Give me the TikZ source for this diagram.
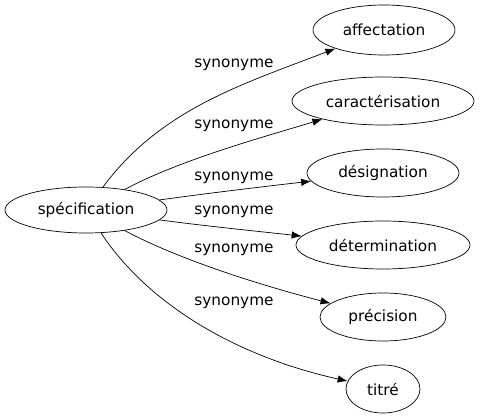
\documentclass[tikz,border=0pt]{standalone}
\usepackage{fontspec}
\setmainfont{DejaVu Sans}
\usetikzlibrary{shapes.geometric,arrows.meta}

\begin{document}
\begin{tikzpicture}[x=1pt,y=-1pt, line width=0.7pt,
    word/.style={draw, ellipse, inner sep=0pt, minimum height=48pt, font=\fontsize{15.3}{18}\selectfont},
    rel/.style={font=\fontsize{15.3}{18}\selectfont, inner sep=0pt},
    syn/.style={-{Latex[length=10pt,width=7.5pt]}}]
            \useasboundingbox (0,0) rectangle (480,419);

            % draw words
            \node[word, minimum width=162pt, minimum height=46pt] (spec) at (86,210) {spécification};
            \node[word, minimum width=142pt, minimum height=50pt] (aff) at (384,30) {affectation};
            \node[word, minimum width=182pt] (car) at (383,101) {caractérisation};
            \node[word, minimum width=152pt] (des) at (383,173) {désignation};
            \node[word, minimum width=174pt] (det) at (383,245) {détermination};
            \node[word, minimum width=126pt] (pre) at (383,317) {précision};
            \node[word, minimum width=74pt] (tit) at (383,389) {titré};

            % draw labels
            \node[rel] (l1) at (234,65) {synonyme};
            \node[rel] (l2) at (234,126) {synonyme};
            \node[rel] (l3) at (234,178) {synonyme};
            \node[rel] (l4) at (234,212) {synonyme};
            \node[rel] (l5) at (234,250) {synonyme};
            \node[rel] (l6) at (234,303) {synonyme};

            % draw links
            \draw[syn] (spec) .. controls (160,110) and (240,85) .. (aff);
            \draw[syn] (spec) .. controls (180,160) and (260,138) .. (car);
            \draw[syn] (spec) .. controls (210,193) and (260,187) .. (des);
            \draw[syn] (spec) .. controls (205,226) and (255,231) .. (det);
            \draw[syn] (spec) .. controls (180,260) and (260,285) .. (pre);
            \draw[syn] (spec) .. controls (145,300) and (230,355) .. (tit);
        \end{tikzpicture}
\end{document}
